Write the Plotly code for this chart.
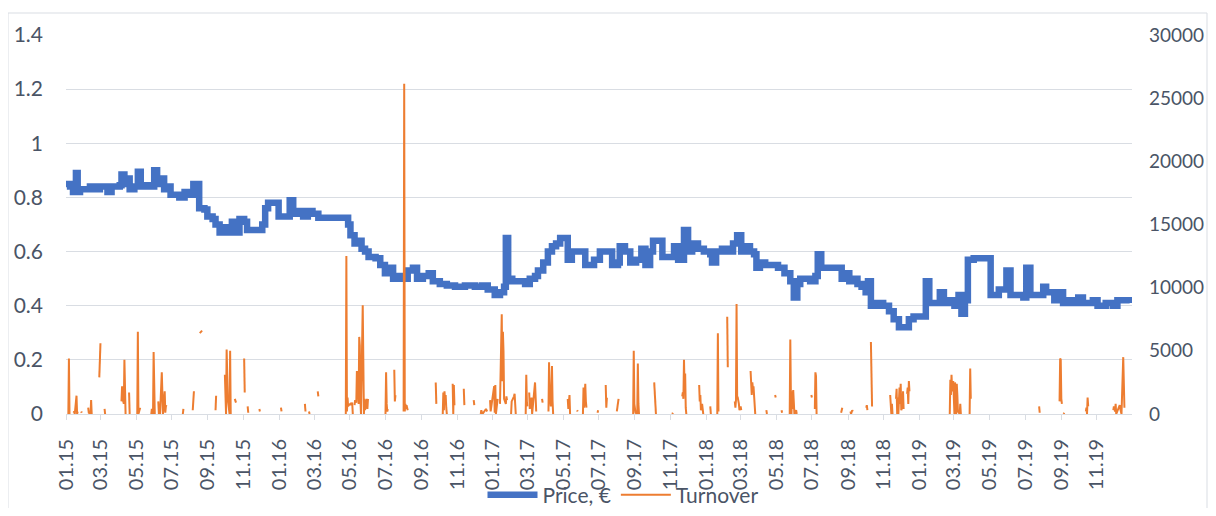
import plotly.graph_objects as go

# ---------------- data ----------------
price_dates = [
    "2015-01-01", "2015-01-08", "2015-01-13", "2015-01-18", "2015-01-21", "2015-01-25",
    "2015-02-11", "2015-02-19", "2015-02-28", "2015-03-08", "2015-03-13", "2015-03-20",
    "2015-04-03", "2015-04-06", "2015-04-11", "2015-04-16", "2015-04-20", "2015-04-28",
    "2015-05-04", "2015-05-09", "2015-05-17", "2015-05-24", "2015-06-01", "2015-06-06",
    "2015-06-13", "2015-06-18", "2015-06-24", "2015-06-29", "2015-07-14", "2015-07-23",
    "2015-07-31", "2015-08-07", "2015-08-12", "2015-08-17", "2015-08-26", "2015-08-31",
    "2015-09-09", "2015-09-14", "2015-09-21", "2015-09-29", "2015-10-04", "2015-10-12",
    "2015-10-19", "2015-10-25", "2015-11-02", "2015-11-07", "2015-11-25", "2015-12-03",
    "2015-12-08", "2015-12-13", "2015-12-27", "2015-12-31", "2016-01-12", "2016-01-19",
    "2016-01-25", "2016-02-02", "2016-02-11", "2016-02-19", "2016-02-27", "2016-03-08",
    "2016-04-23", "2016-04-28", "2016-05-02", "2016-05-09", "2016-05-15", "2016-05-21",
    "2016-05-27", "2016-06-02", "2016-06-14", "2016-06-22", "2016-06-30", "2016-07-06",
    "2016-07-14", "2016-07-23", "2016-07-31", "2016-08-08", "2016-08-17", "2016-08-24",
    "2016-09-03", "2016-09-13", "2016-09-20", "2016-10-02", "2016-10-14", "2016-10-28",
    "2016-11-14", "2016-12-01", "2016-12-13", "2016-12-23", "2017-01-04", "2017-01-13",
    "2017-01-20", "2017-01-23", "2017-01-27", "2017-02-03", "2017-02-17", "2017-02-25",
    "2017-03-05", "2017-03-14", "2017-03-19", "2017-03-28", "2017-04-05", "2017-04-12",
    "2017-04-19", "2017-04-26", "2017-05-04", "2017-05-09", "2017-05-16", "2017-05-26",
    "2017-06-03", "2017-06-08", "2017-06-23", "2017-07-03", "2017-07-17", "2017-07-24",
    "2017-08-03", "2017-08-06", "2017-08-15", "2017-08-24", "2017-09-03", "2017-09-12",
    "2017-09-19", "2017-09-27", "2017-10-02", "2017-10-11", "2017-10-18", "2017-10-31",
    "2017-11-07", "2017-11-14", "2017-11-24", "2017-12-01", "2017-12-08", "2017-12-18",
    "2017-12-28", "2018-01-08", "2018-01-11", "2018-01-18", "2018-01-28", "2018-02-07",
    "2018-02-16", "2018-02-23", "2018-03-02", "2018-03-09", "2018-03-17", "2018-03-24",
    "2018-03-28", "2018-04-03", "2018-04-12", "2018-04-24", "2018-05-04", "2018-05-15",
    "2018-05-22", "2018-05-25", "2018-05-31", "2018-06-06", "2018-06-11", "2018-06-28",
    "2018-07-07", "2018-07-11", "2018-07-17", "2018-08-14", "2018-08-21", "2018-08-28",
    "2018-09-03", "2018-09-12", "2018-09-17", "2018-09-24", "2018-10-01", "2018-10-05",
    "2018-10-10", "2018-10-21", "2018-10-31", "2018-11-10", "2018-11-18", "2018-11-27",
    "2018-12-04", "2018-12-14", "2018-12-22", "2019-01-08", "2019-01-12", "2019-01-18",
    "2019-01-31", "2019-02-05", "2019-02-12", "2019-02-20", "2019-03-02", "2019-03-09",
    "2019-03-14", "2019-03-20", "2019-03-25", "2019-04-04", "2019-04-26", "2019-05-03",
    "2019-05-13", "2019-05-17", "2019-05-25", "2019-05-30", "2019-06-06", "2019-06-20",
    "2019-06-28", "2019-07-03", "2019-07-10", "2019-07-24", "2019-08-01", "2019-08-06",
    "2019-08-13", "2019-08-20", "2019-08-27", "2019-09-04", "2019-09-13", "2019-09-21",
    "2019-09-30", "2019-10-08", "2019-10-16", "2019-10-25", "2019-11-02", "2019-11-16",
    "2019-11-28", "2019-12-06", "2019-12-15", "2019-12-27",
]
price_values = [
    0.85, 0.84, 0.82, 0.89, 0.82, 0.83,
    0.84, 0.83, 0.84, 0.84, 0.82, 0.84,
    0.845, 0.885, 0.85, 0.87, 0.83, 0.84,
    0.895, 0.84, 0.845, 0.84, 0.90, 0.85,
    0.87, 0.83, 0.84, 0.81, 0.80, 0.82,
    0.81, 0.85, 0.85, 0.76, 0.755, 0.73,
    0.72, 0.70, 0.67, 0.69, 0.67, 0.71,
    0.67, 0.72, 0.71, 0.68, 0.68, 0.70,
    0.76, 0.78, 0.78, 0.73, 0.73, 0.79,
    0.74, 0.75, 0.73, 0.75, 0.74, 0.725,
    0.725, 0.70, 0.66, 0.63, 0.64, 0.61,
    0.60, 0.58, 0.575, 0.55, 0.52, 0.54,
    0.50, 0.51, 0.50, 0.53, 0.54, 0.50,
    0.51, 0.52, 0.49, 0.48, 0.475, 0.47,
    0.475, 0.47, 0.475, 0.46, 0.44, 0.45,
    0.47, 0.65, 0.50, 0.49, 0.49, 0.48,
    0.50, 0.51, 0.53, 0.56, 0.60, 0.62,
    0.63, 0.65, 0.65, 0.57, 0.60, 0.60,
    0.60, 0.55, 0.57, 0.60, 0.60, 0.55,
    0.56, 0.62, 0.60, 0.56, 0.57, 0.61,
    0.55, 0.60, 0.64, 0.64, 0.58, 0.58,
    0.62, 0.57, 0.68, 0.60, 0.63, 0.61,
    0.60, 0.59, 0.56, 0.60, 0.61, 0.60,
    0.63, 0.66, 0.60, 0.62, 0.60, 0.59,
    0.54, 0.56, 0.55, 0.55, 0.54, 0.52,
    0.52, 0.49, 0.43, 0.48, 0.50, 0.49,
    0.51, 0.59, 0.54, 0.54, 0.50, 0.52,
    0.49, 0.50, 0.48, 0.47, 0.45, 0.49,
    0.40, 0.41, 0.40, 0.38, 0.35, 0.32,
    0.32, 0.35, 0.36, 0.36, 0.49, 0.41,
    0.41, 0.45, 0.41, 0.42, 0.40, 0.44,
    0.37, 0.42, 0.57, 0.575, 0.575, 0.44,
    0.44, 0.46, 0.46, 0.53, 0.44, 0.44,
    0.43, 0.54, 0.44, 0.44, 0.47, 0.45,
    0.45, 0.42, 0.45, 0.41, 0.42, 0.41,
    0.43, 0.41, 0.41, 0.42, 0.40, 0.41,
    0.40, 0.42, 0.42, 0.41,
]

# Turnover: None marks a gap (days without trades)
turnover_dates = [
    "2015-01-05", "2015-01-06", "2015-01-07", None,
    "2015-01-14", "2015-01-15", "2015-01-16", "2015-01-19", "2015-01-20", "2015-01-21", None,
    "2015-01-27", "2015-01-28", None,
    "2015-02-08", "2015-02-09", "2015-02-12", "2015-02-13", "2015-02-14", None,
    "2015-02-27", "2015-03-01", None,
    "2015-03-08", "2015-03-09", None,
    "2015-04-06", "2015-04-07", "2015-04-08", "2015-04-10", "2015-04-11", "2015-04-12", "2015-04-13", None,
    "2015-04-19", "2015-04-20", None,
    "2015-05-03", "2015-05-04", "2015-05-05", "2015-05-07", "2015-05-08", None,
    "2015-05-27", "2015-05-28", "2015-05-30", "2015-05-31", "2015-06-01", "2015-06-02", None,
    "2015-06-08", "2015-06-09", "2015-06-10", "2015-06-11", "2015-06-14", "2015-06-15", "2015-06-16", "2015-06-19", "2015-06-20", "2015-06-21", "2015-06-22", None,
    "2015-07-20", "2015-07-21", None,
    "2015-08-06", "2015-08-08", None,
    "2015-08-18", "2015-08-22", None,
    "2015-09-14", "2015-09-15", None,
    "2015-09-30", "2015-10-01", "2015-10-02", "2015-10-03", "2015-10-04", "2015-10-05", "2015-10-08", "2015-10-09", "2015-10-10", None,
    "2015-10-17", "2015-10-19", None,
    "2015-11-02", "2015-11-03", None,
    "2015-11-08", "2015-11-09", None,
    "2015-11-28", "2015-11-29", None,
    "2016-01-04", "2016-01-05", None,
    "2016-02-14", "2016-02-15", None,
    "2016-02-21", "2016-02-22", None,
    "2016-03-07", "2016-03-08", None,
    "2016-04-24", "2016-04-25", "2016-04-26", "2016-04-27", "2016-04-28", "2016-04-29", "2016-05-02", "2016-05-03", "2016-05-05", "2016-05-06", None,
    "2016-05-09", "2016-05-10", "2016-05-12", "2016-05-13", "2016-05-16", "2016-05-17", "2016-05-18", "2016-05-19", "2016-05-20", "2016-05-23", "2016-05-24", "2016-05-25", "2016-05-26", "2016-05-27", "2016-05-30", "2016-05-31", "2016-06-01", None,
    "2016-07-01", "2016-07-02", "2016-07-03", "2016-07-04", "2016-07-05", None,
    "2016-07-16", "2016-07-17", "2016-07-18", None,
    "2016-08-01", "2016-08-02", "2016-08-03", "2016-08-04", "2016-08-05", "2016-08-06", "2016-08-08", None,
    "2016-09-25", "2016-09-26", None,
    "2016-10-07", "2016-10-08", "2016-10-09", "2016-10-10", "2016-10-11", "2016-10-12", "2016-10-13", "2016-10-14", None,
    "2016-10-24", "2016-10-25", "2016-10-26", "2016-10-27", None,
    "2016-11-12", "2016-11-13", None,
    "2016-11-29", "2016-11-30", None,
    "2016-12-11", "2016-12-12", "2016-12-14", "2016-12-20", "2016-12-22", None,
    "2016-12-27", "2016-12-28", "2017-01-03", "2017-01-04", "2017-01-05", "2017-01-06", "2017-01-09", None,
    "2017-01-13", "2017-01-16", "2017-01-17", "2017-01-18", "2017-01-19", "2017-01-20", "2017-01-23", "2017-01-24", "2017-01-25", None,
    "2017-02-01", "2017-02-02", "2017-02-06", "2017-02-07", "2017-02-08", "2017-02-09", None,
    "2017-02-26", "2017-02-27", "2017-02-28", "2017-03-01", None,
    "2017-03-04", "2017-03-05", "2017-03-08", "2017-03-09", "2017-03-14", "2017-03-15", "2017-03-16", None,
    "2017-03-26", "2017-03-27", None,
    "2017-04-06", "2017-04-07", "2017-04-08", "2017-04-09", "2017-04-10", "2017-04-12", "2017-04-13", "2017-04-14", None,
    "2017-05-09", "2017-05-10", "2017-05-12", "2017-05-13", None,
    "2017-05-25", "2017-05-26", None,
    "2017-06-04", "2017-06-05", "2017-06-06", "2017-06-08", "2017-06-09", "2017-06-10", None,
    "2017-06-29", "2017-06-30", None,
    "2017-07-13", "2017-07-14", "2017-07-15", None,
    "2017-08-01", "2017-08-03", "2017-08-04", None,
    "2017-08-29", "2017-08-30", "2017-08-31", "2017-09-01", "2017-09-02", "2017-09-05", "2017-09-06", "2017-09-07", "2017-09-08", None,
    "2017-10-04", "2017-10-05", "2017-10-06", "2017-10-07", None,
    "2017-11-04", "2017-11-05", None,
    "2017-11-21", "2017-11-22", "2017-11-23", "2017-11-24", "2017-11-25", "2017-11-26", "2017-11-27", "2017-11-28", None,
    "2017-12-20", "2017-12-21", "2017-12-22", "2017-12-23", "2017-12-25", "2017-12-26", "2017-12-27", None,
    "2018-01-08", "2018-01-09", None,
    "2018-01-20", "2018-01-21", "2018-01-22", None,
    "2018-02-06", "2018-02-07", None,
    "2018-02-19", "2018-02-20", "2018-02-21", "2018-02-22", "2018-02-23", "2018-02-24", "2018-02-26", "2018-02-27", "2018-03-01", "2018-03-02", None,
    "2018-03-18", "2018-03-19", "2018-03-20", "2018-03-21", "2018-03-22", "2018-03-23", "2018-03-24", "2018-03-26", None,
    "2018-04-14", "2018-04-15", None,
    "2018-04-29", "2018-04-30", None,
    "2018-05-10", "2018-05-11", None,
    "2018-05-24", "2018-05-25", "2018-05-26", "2018-05-27", "2018-05-28", "2018-05-29", "2018-05-30", "2018-05-31", "2018-06-01", "2018-06-04", "2018-06-05", None,
    "2018-06-30", "2018-07-01", None,
    "2018-07-06", "2018-07-07", "2018-07-08", "2018-07-09", None,
    "2018-08-20", "2018-08-21", "2018-08-22", None,
    "2018-09-05", "2018-09-06", "2018-09-08", "2018-09-09", None,
    "2018-10-02", "2018-10-03", "2018-10-04", None,
    "2018-10-10", "2018-10-11", "2018-10-12", None,
    "2018-11-12", "2018-11-13", "2018-11-14", "2018-11-15", "2018-11-16", None,
    "2018-11-22", "2018-11-23", "2018-11-24", "2018-11-25", "2018-11-26", "2018-11-28", "2018-11-29", "2018-11-30", "2018-12-01", "2018-12-03", "2018-12-04", "2018-12-05", None,
    "2018-12-11", "2018-12-12", "2018-12-13", "2018-12-14", "2018-12-15", None,
    "2019-02-22", "2019-02-23", "2019-02-24", "2019-02-25", "2019-02-26", "2019-02-27", "2019-02-28", "2019-03-01", "2019-03-02", "2019-03-03", "2019-03-04", "2019-03-05", "2019-03-06", "2019-03-07", "2019-03-08", "2019-03-11", "2019-03-12", "2019-03-13", None,
    "2019-03-28", "2019-03-29", "2019-03-30", None,
    "2019-07-25", "2019-07-26", None,
    "2019-08-29", "2019-08-30", "2019-08-31", "2019-09-01", "2019-09-02", None,
    "2019-09-05", "2019-09-06", None,
    "2019-10-13", "2019-10-14", "2019-10-15", "2019-10-16", "2019-10-17", None,
    "2019-11-29", "2019-11-30", "2019-12-02", "2019-12-03", "2019-12-04", "2019-12-10", "2019-12-11", "2019-12-13", "2019-12-16", "2019-12-17", "2019-12-18",
]
turnover_values = [
    0, 4400, 0, None,
    100, 200, 0, 1450, 0, 200, None,
    200, 100, None,
    500, 100, 0, 1100, 0, None,
    2900, 5600, None,
    400, 0, None,
    1000, 2200, 1200, 800, 4300, 1200, 0, None,
    1700, 0, None,
    0, 6500, 0, 400, 500, None,
    0, 400, 0, 4900, 2500, 0, None,
    1000, 0, 800, 0, 3300, 200, 0, 1800, 100, 600, 700, None,
    0, 400, None,
    300, 1800, None,
    6400, 6600, None,
    300, 1450, None,
    3100, 2000, 0, 5100, 1400, 1200, 0, 5000, 0, None,
    1200, 900, None,
    4400, 1700, None,
    600, 100, None,
    400, 200, None,
    500, 200, None,
    800, 200, None,
    200, 0, None,
    1800, 1400, None,
    0, 12500, 200, 1300, 600, 700, 800, 700, 900, 0, None,
    700, 1100, 900, 3400, 800, 6100, 5400, 1200, 0, 8600, 1000, 0, 1200, 300, 1200, 400, 1200, None,
    0, 3300, 800, 200, 400, None,
    3500, 1000, 1500, None,
    200, 26150, 200, 800, 400, 700, 300, None,
    2500, 800, None,
    0, 1700, 300, 1800, 1000, 1500, 500, 0, None,
    2400, 0, 2300, 700, None,
    2000, 700, None,
    1100, 700, None,
    0, 300, 0, 400, 200, None,
    1100, 200, 2200, 100, 2300, 0, 1200, None,
    800, 7900, 2600, 6500, 5000, 1200, 800, 1400, 1100, None,
    0, 1000, 1400, 1600, 800, 0, None,
    0, 3100, 1000, 600, None,
    1700, 400, 1300, 0, 2500, 700, 200, None,
    1200, 900, None,
    200, 4100, 1100, 1200, 600, 3800, 1000, 0, None,
    1200, 400, 1500, 0, None,
    300, 200, None,
    0, 2100, 500, 2400, 1000, 500, None,
    100, 300, None,
    2300, 500, 1300, None,
    200, 1100, 1200, None,
    0, 5000, 800, 300, 100, 0, 4000, 800, 0, None,
    2500, 1600, 700, 0, None,
    0, 100, None,
    1400, 1700, 1200, 4300, 2000, 3200, 500, 0, None,
    2300, 1000, 1500, 300, 800, 400, 0, None,
    600, 0, None,
    0, 6400, 200, None,
    7700, 3700, None,
    1000, 500, 1100, 8700, 1300, 1300, 800, 300, 600, 300, None,
    3400, 2300, 1500, 2500, 2000, 2200, 1100, 0, None,
    300, 0, None,
    1500, 1300, None,
    300, 100, None,
    0, 5900, 1500, 0, 1800, 400, 1900, 200, 0, 300, 0, None,
    1500, 1300, None,
    400, 3300, 3000, 0, None,
    100, 400, 500, None,
    200, 0, 300, 200, None,
    500, 700, 300, None,
    5700, 2200, 600, None,
    1500, 500, 0, 800, 0, None,
    1200, 2000, 0, 1300, 0, 2100, 800, 2400, 300, 600, 1800, 400, None,
    1600, 2100, 800, 2600, 1800, None,
    0, 2700, 1500, 3100, 2000, 1800, 2600, 1300, 0, 2500, 1800, 0, 2400, 1500, 200, 0, 800, 0, None,
    0, 3600, 1200, None,
    600, 100, None,
    1000, 4400, 4300, 1200, 800, None,
    0, 100, None,
    200, 500, 0, 1300, 600, None,
    300, 600, 200, 800, 0, 700, 400, 0, 4500, 700, 500,
]

x_range = ["2015-01-01", "2019-12-31"]
price_range = [0, 1.4]
turnover_range = [0, 30000]

# ---------------- figure ----------------
TEXT = "#4a5466"
GRID = "#d9dde3"
FONT = "Lato"

# the page body adds an 8px margin on each side; the figure fits inside it
W, H = 1200, 500
ML, MT, PW, PH = 58, 27, 1066, 379

fig = go.Figure()
fig.add_trace(go.Scatter(
    x=price_dates, y=price_values, name="Price, €", mode="lines",
    line=dict(color="#4472C4", width=6.5, shape="hv"), yaxis="y",
))
fig.add_trace(go.Scatter(
    x=turnover_dates, y=turnover_values, name="Turnover", mode="lines",
    line=dict(color="#ED7D31", width=2), connectgaps=False, yaxis="y2",
))

fig.update_layout(
    width=W, height=H,
    margin=dict(l=ML, r=W - ML - PW, t=MT, b=H - MT - PH, autoexpand=False),
    paper_bgcolor="white", plot_bgcolor="white",
    font=dict(family=FONT, size=20, color=TEXT),
    showlegend=True,
    legend=dict(orientation="h", x=0.5 + 24 / PW, xanchor="center", y=-0.214, yanchor="middle",
                font=dict(family=FONT, size=21, color=TEXT), itemwidth=50,
                bgcolor="rgba(0,0,0,0)"),
    xaxis=dict(
        type="date", range=x_range, dtick="M2", tick0="2015-01-01",
        tickformat="%m.%y", tickangle=-90, ticks="outside", ticklen=5,
        tickcolor=GRID, showline=True, linecolor=GRID, linewidth=1,
        showgrid=False, zeroline=False, ticklabelstandoff=11, automargin=False,
        tickfont=dict(size=20),
    ),
    yaxis=dict(
        range=price_range, dtick=0.2, tick0=0, showgrid=True, gridcolor=GRID,
        gridwidth=1, zeroline=False, showline=False, ticks="",
        ticklabelstandoff=22, automargin=False, tickfont=dict(size=21),
    ),
    yaxis2=dict(
        range=turnover_range, dtick=5000, tick0=0, overlaying="y", side="right",
        showgrid=False, zeroline=False, showline=False, ticks="", tickformat="d",
        ticklabelstandoff=16, automargin=False, tickfont=dict(size=19),
    ),
    shapes=[dict(
        type="rect", xref="paper", yref="paper",
        x0=-58 / PW, x1=1141 / PW, y0=-0.3, y1=401 / PH,
        line=dict(color=GRID, width=1), fillcolor="rgba(0,0,0,0)", layer="below",
    )],
)

fig.write_html("out.html")
